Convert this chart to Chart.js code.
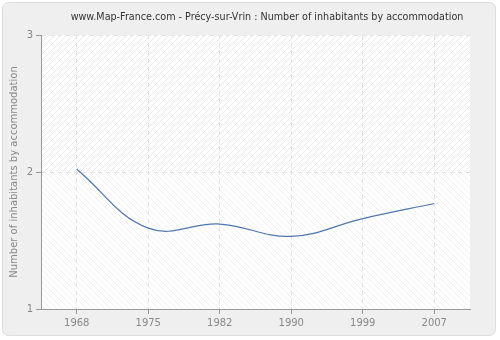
<!DOCTYPE html>
<html>
<head>
<meta charset="utf-8">
<script src="https://cdn.jsdelivr.net/npm/chart.js@4/dist/chart.umd.min.js"></script>
<style>
  html, body { margin: 0; padding: 0; background: #fff; }
  #wrap { width: 500px; height: 340px; }
</style>
</head>
<body>
<div id="wrap"><canvas id="chart" width="500" height="340"></canvas></div>
<script>
const years = ["1968", "1975", "1982", "1990", "1999", "2007"];
const inhabitants = [2.02, 1.59, 1.62, 1.53, 1.66, 1.77];
const yTicks = [1, 2, 3];
const chartTitle = "www.Map-France.com - Précy-sur-Vrin : Number of inhabitants by accommodation";

const font = "'DejaVu Sans', Verdana, sans-serif";

// small tile with one diagonal stroke; flip mirrors "/" into "\"
function hatch(color, flip) {
  const c = document.createElement("canvas");
  c.width = 6;
  c.height = 6;
  const g = c.getContext("2d");
  g.fillStyle = "#ffffff";
  g.fillRect(0, 0, 6, 6);
  if (flip) {
    g.translate(6, 0);
    g.scale(-1, 1);
  }
  g.strokeStyle = color;
  g.lineWidth = 1;
  g.beginPath();
  g.moveTo(0, 6);
  g.lineTo(6, 0);
  g.moveTo(-1, 1);
  g.lineTo(1, -1);
  g.moveTo(5, 7);
  g.lineTo(7, 5);
  g.stroke();
  return g.createPattern(c, "repeat");
}

// grey rounded panel, hatched plot background and the title line
const panel = {
  id: "panel",
  beforeDraw(chart) {
    const ctx = chart.ctx;
    const a = chart.chartArea;
    ctx.save();
    ctx.fillStyle = "#ffffff";
    ctx.fillRect(0, 0, chart.width, chart.height);
    ctx.beginPath();
    ctx.roundRect(2.5, 2.5, 493, 333, 6);
    ctx.fillStyle = "#efefef";
    ctx.fill();
    ctx.strokeStyle = "#dddddd";
    ctx.lineWidth = 1;
    ctx.stroke();

    const mid = chart.scales.y.getPixelForValue(2);
    ctx.fillStyle = hatch("#e8e8e8", false);
    ctx.fillRect(a.left, a.top, a.right - a.left, mid - a.top);
    ctx.fillStyle = hatch("#f0f0f0", true);
    ctx.fillRect(a.left, mid, a.right - a.left, a.bottom - mid);

    ctx.fillStyle = "#333333";
    ctx.font = "9.6px " + font;
    ctx.textAlign = "center";
    ctx.textBaseline = "middle";
    ctx.fillText(chartTitle, 267, 17);
    ctx.restore();
  }
};

new Chart(document.getElementById("chart"), {
  type: "line",
  data: {
    labels: years,
    datasets: [{
      data: inhabitants,
      borderColor: "#4f77ad",
      borderWidth: 1.2,
      pointRadius: 0,
      tension: 0.4,
      fill: false
    }]
  },
  options: {
    responsive: false,
    animation: false,
    layout: { padding: { left: 0, right: 30, top: 35, bottom: 0 } },
    plugins: {
      legend: { display: false },
      tooltip: { enabled: false },
      title: { display: false }
    },
    scales: {
      x: {
        offset: true,
        afterFit: s => { s.height = 31; },
        grid: {
          color: "#e2e2e2",
          tickColor: "#999999",
          tickLength: 5,
          offset: false
        },
        border: { color: "#999999", width: 1, dash: [4, 4] },
        ticks: {
          color: "#888888",
          font: { family: font, size: 10 },
          padding: 3,
          maxRotation: 0
        }
      },
      y: {
        min: 1,
        max: 3,
        afterFit: s => { s.width = 41; },
        afterBuildTicks: s => { s.ticks = yTicks.map(v => ({ value: v })); },
        grid: {
          color: "#e2e2e2",
          tickColor: "#999999",
          tickLength: 5
        },
        border: { color: "#999999", width: 1, dash: [4, 4] },
        ticks: {
          color: "#888888",
          font: { family: font, size: 10 },
          padding: 3
        },
        title: {
          display: true,
          text: "Number of inhabitants by accommodation",
          color: "#888888",
          font: { family: font, size: 10 },
          padding: { top: 8, bottom: 0 }
        }
      }
    }
  },
  plugins: [panel]
});
</script>
</body>
</html>
